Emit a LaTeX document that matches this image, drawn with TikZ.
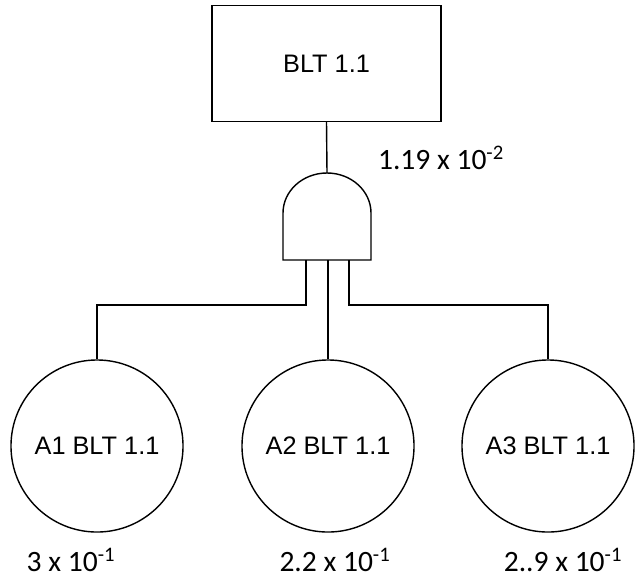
\documentclass[tikz,border=0pt]{standalone}
\usepackage{fontspec}
\setmainfont{Liberation Sans}
\newfontfamily\eventfont{Liberation Sans}
\newfontfamily\probfont{Carlito}
\usetikzlibrary{positioning}

\begin{document}
\begin{tikzpicture}[x=0.025cm, y=-0.025cm, line width=1pt]
  % Define styles for nodes
  \tikzset{
    eventbox/.style={rectangle, draw, minimum width=5.72cm, minimum height=2.9cm, inner sep=0pt, font=\eventfont\fontsize{18}{21}\selectfont},
    basicnode/.style={circle, draw, minimum size=4.3cm, inner sep=0pt, font=\eventfont\fontsize{18}{21}\selectfont},
    problabel/.style={font=\probfont\fontsize{21}{23}\selectfont, inner sep=1pt}
  }
  \useasboundingbox (0,0) rectangle (635,580);

  % Top event and basic events
  \node[eventbox] (top) at (326.5,63.5) {BLT 1.1};
  \node[basicnode] (a1) at (97,446) {A1 BLT 1.1};
  \node[basicnode] (a2) at (328,446) {A2 BLT 1.1};
  \node[basicnode] (a3) at (548,446) {A3 BLT 1.1};

  % AND gate
  \coordinate (gatetop) at (327,173);
  \coordinate (legl) at (306,260);
  \coordinate (legm) at (328,260);
  \coordinate (legr) at (349,260);
  \draw (283,260) -- (283,213) arc[start angle=180, end angle=360, x radius=44, y radius=40] -- (371,260) -- cycle;

  % Connectors
  \draw (top.south) -- (gatetop);
  \draw (legl) -- ++(0,45) -| (a1.north);
  \draw (legm) -- (a2.north);
  \draw (legr) -- ++(0,45) -| (a3.north);

  % Probabilities
  \node[problabel] (pgate) at (441,158) {1.19 x 10\textsuperscript{-2}};
  \node[problabel] (p1) at (71,560) {3 x 10\textsuperscript{-1}};
  \node[problabel] (p2) at (335,560) {2.2 x 10\textsuperscript{-1}};
  \node[problabel] (p3) at (563,560) {2..9 x 10\textsuperscript{-1}};
\end{tikzpicture}
\end{document}
